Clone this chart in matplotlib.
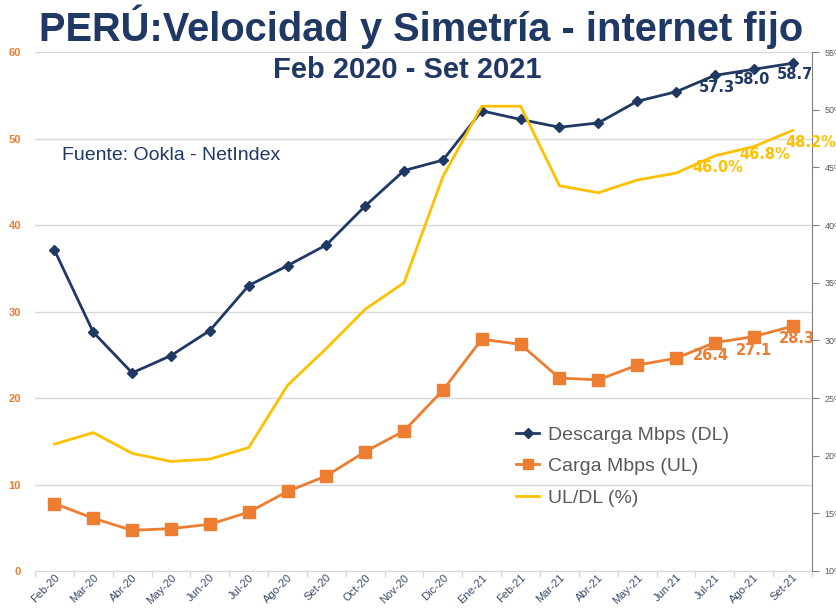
import numpy as np
import matplotlib
matplotlib.use("Agg")
import matplotlib.pyplot as plt
from matplotlib.lines import Line2D

plt.rcParams["font.family"] = ["Liberation Sans", "DejaVu Sans"]

# data
meses = ["Feb-20", "Mar-20", "Abr-20", "May-20", "Jun-20", "Jul-20", "Ago-20",
         "Set-20", "Oct-20", "Nov-20", "Dic-20", "Ene-21", "Feb-21", "Mar-21",
         "Abr-21", "May-21", "Jun-21", "Jul-21", "Ago-21", "Set-21"]
descarga = [37.1, 27.6, 22.9, 24.9, 27.8, 33.0, 35.3, 37.7, 42.2, 46.3,
            47.5, 53.2, 52.2, 51.3, 51.8, 54.3, 55.4, 57.3, 58.0, 58.7]
carga = [7.8, 6.1, 4.7, 4.9, 5.4, 6.8, 9.2, 11.0, 13.8, 16.2,
         20.9, 26.8, 26.2, 22.3, 22.1, 23.8, 24.6, 26.4, 27.1, 28.3]
ratio = [21.0, 22.0, 20.2, 19.5, 19.7, 20.7, 26.1, 29.3, 32.7, 35.0,
         44.2, 50.3, 50.3, 43.4, 42.8, 43.9, 44.5, 46.0, 46.8, 48.2]

NAVY = "#203864"
ORANGE = "#ED7D31"
YELLOW = "#FFC000"

fig = plt.figure(figsize=(8.37, 6.08), dpi=100)
ax = fig.add_axes([35 / 837, 1 - 571 / 608, (812 - 35) / 837, (571 - 52) / 608])
ax2 = ax.twinx()

x = np.arange(len(meses))

ax.plot(x, descarga, color=NAVY, lw=2, marker="D", ms=5, zorder=3)
ax.plot(x, carga, color=ORANGE, lw=2, marker="s", ms=8, zorder=3)
ax2.plot(x, ratio, color=YELLOW, lw=2, zorder=2)

ax.set_xlim(-0.5, len(meses) - 0.5)
ax.set_ylim(0, 60)
ax2.set_ylim(10, 55)

# left axis
ax.set_yticks(range(0, 61, 10))
ax.tick_params(axis="y", length=0, pad=10, labelsize=8, labelcolor=ORANGE)
for t in ax.get_yticklabels():
    t.set_fontweight("bold")
ax.grid(axis="y", color="#d9d9d9", lw=1)
ax.set_axisbelow(True)

# x axis
ax.set_xticks(x)
ax.set_xticklabels(meses, rotation=45, ha="right", va="top",
                   rotation_mode="anchor", fontsize=8, color="#3A4A6B")
ax.tick_params(axis="x", length=0, pad=1)
ax.set_xticks(np.arange(-0.5, len(meses), 1), minor=True)
ax.tick_params(axis="x", which="minor", length=4, color="#d9d9d9", width=1)

for s in ["top", "left", "right"]:
    ax.spines[s].set_visible(False)
ax.spines["bottom"].set_color("#d9d9d9")

# right axis
for s in ["top", "left", "bottom"]:
    ax2.spines[s].set_visible(False)
ax2.spines["right"].set_color("#808080")
ax2.set_yticks(range(10, 56, 5))
ax2.set_yticklabels([f"{v}%" for v in range(10, 56, 5)])
ax2.tick_params(axis="y", length=5, color="#808080", labelsize=6.5,
                labelcolor="#595959", pad=4)

# data labels (last three months)
lbl = dict(textcoords="offset points", ha="center", va="center",
           fontsize=10.5, fontweight="bold", family="DejaVu Sans")
for i, dx, dy in [(17, 1.5, -8.5), (18, -1.5, -7.5), (19, 2, -8)]:
    ax.annotate(f"{descarga[i]:.1f}", (x[i], descarga[i]), xytext=(dx, dy),
                color=NAVY, **lbl)
for i, dx, dy in [(17, -3, -9.5), (18, 0, -10), (19, 3, -8.5)]:
    ax.annotate(f"{carga[i]:.1f}", (x[i], carga[i]), xytext=(dx, dy),
                color=ORANGE, **lbl)
for i, dx, dy in [(17, 2, -8.5), (18, 8, -6), (19, 13, -8.5)]:
    ax2.annotate(f"{ratio[i]:.1f}%", (x[i], ratio[i]), xytext=(dx, dy),
                 color=YELLOW, **lbl)

# titles and source
fig.text(421 / 837, 1 - 27 / 608, "PERÚ:Velocidad y Simetría - internet fijo",
         ha="center", va="center", fontsize=28.7, fontweight="bold", color=NAVY)
fig.text(407 / 837, 1 - 70 / 608, "Feb 2020 - Set 2021", ha="center",
         va="center", fontsize=21, fontweight="bold", color=NAVY)
fig.text(62 / 837, 1 - 156 / 608, "Fuente: Ookla - NetIndex", ha="left",
         va="center", fontsize=14, color=NAVY)

# legend
handles = [
    Line2D([], [], color=NAVY, lw=2, marker="D", ms=5),
    Line2D([], [], color=ORANGE, lw=2, marker="s", ms=7),
    Line2D([], [], color=YELLOW, lw=2),
]
fig.legend(handles, ["Descarga Mbps (DL)", "Carga Mbps (UL)", "UL/DL (%)"],
           loc="upper left", bbox_to_anchor=(516 / 837, 1 - 426 / 608),
           frameon=False, fontsize=14, labelcolor="#595959",
           borderpad=0, borderaxespad=0,
           handlelength=1.2, labelspacing=0.72, handletextpad=0.45)

fig.savefig("out.png", dpi=100)
